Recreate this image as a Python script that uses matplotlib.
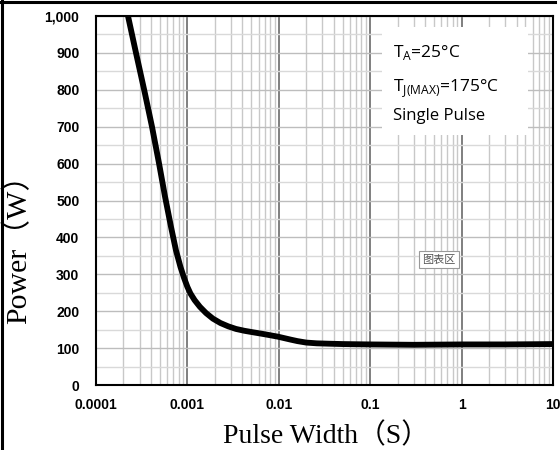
import matplotlib
matplotlib.use("Agg")
import matplotlib.pyplot as plt
from matplotlib.patches import Rectangle
from matplotlib.lines import Line2D
from matplotlib.ticker import FixedLocator, LogLocator, NullFormatter, MultipleLocator

# pulse width (s) vs peak power (W)
pulse_width = [0.000224, 0.000274, 0.00034, 0.00041, 0.00049, 0.00057, 0.00066,
               0.00075, 0.00084, 0.00092, 0.001, 0.00108, 0.0012, 0.00137, 0.0016,
               0.0019, 0.0023, 0.0028, 0.0034, 0.0042, 0.0052, 0.0065, 0.008,
               0.0098, 0.0115, 0.0135, 0.016, 0.02, 0.026, 0.035, 0.05, 0.1, 0.3,
               1, 3, 10]
power = [1000, 900, 795, 700, 600, 510, 430, 365, 320, 290, 266, 248, 230, 212,
         195, 180, 168, 159, 152, 147, 143, 139, 135, 131, 127, 123, 119, 115,
         113, 112, 111, 110, 109, 110, 110, 111]
x_ticks = [0.0001, 0.001, 0.01, 0.1, 1, 10]
x_labels = ["0.0001", "0.001", "0.01", "0.1", "1", "10"]
y_ticks = [0, 100, 200, 300, 400, 500, 600, 700, 800, 900, 1000]
y_labels = ["0", "100", "200", "300", "400", "500", "600", "700", "800", "900", "1,000"]

fig = plt.figure(figsize=(5.6, 4.5), dpi=100)
ax = fig.add_axes([0.1714, 0.1444, 0.8161, 0.82])
ax.set_xscale("log")
ax.set_xlim(0.0001, 10); ax.set_ylim(0, 1000)

ax.xaxis.set_major_locator(FixedLocator(x_ticks))
ax.xaxis.set_minor_locator(LogLocator(base=10, subs=range(2, 10)))
ax.xaxis.set_minor_formatter(NullFormatter())
ax.set_xticklabels(x_labels)
ax.set_yticks(y_ticks); ax.set_yticklabels(y_labels)
ax.yaxis.set_minor_locator(MultipleLocator(50))

ax.grid(True, which="major", axis="x", color="#7f7f7f", lw=1.4)
ax.grid(True, which="minor", axis="x", color="#c8c8c8", lw=1.0)
ax.grid(True, which="major", axis="y", color="#bdbdbd", lw=1.0)
ax.grid(True, which="minor", axis="y", color="#d9d9d9", lw=1.0)
ax.set_axisbelow(True)
ax.tick_params(which="both", length=0)
ax.tick_params(axis="y", pad=12)
ax.tick_params(axis="x", pad=9)
for lab in ax.get_xticklabels() + ax.get_yticklabels():
    lab.set_family("Liberation Sans"); lab.set_fontweight("bold"); lab.set_fontsize(10)
for s in ax.spines.values():
    s.set_linewidth(1.5); s.set_color("black")

# white info box over the grid
ax.add_patch(Rectangle((0.626, 0.678), 0.319, 0.292, transform=ax.transAxes,
                       facecolor="white", edgecolor="none", zorder=1.5))
fs = 12.5
ax.text(0.650, 0.889, r"T$_\mathregular{A}$=25°C", transform=ax.transAxes,
        fontsize=fs, family="Open Sans", va="baseline", zorder=3)
ax.text(0.650, 0.794, r"T$_\mathregular{J(MAX)}$=175°C", transform=ax.transAxes,
        fontsize=fs, family="Open Sans", va="baseline", zorder=3)
ax.text(0.650, 0.718, "Single Pulse", transform=ax.transAxes,
        fontsize=fs - 0.5, family="Open Sans", va="baseline", zorder=3)

ax.plot(pulse_width, power, color="black", lw=4.2, solid_capstyle="butt",
        solid_joinstyle="round", zorder=4)

# excel chart-area hint
ax.text(0.75, 0.34, "图表区", transform=ax.transAxes, fontsize=8, color="#555",
        family=["Noto Sans CJK SC", "DejaVu Sans"], ha="center", va="center", zorder=5,
        bbox=dict(boxstyle="square,pad=0.3", fc="white", ec="#999", lw=0.8))

lab_font = ["Liberation Serif", "Noto Sans CJK SC"]
fig.text(326 / 560, 1 - 436 / 450, "Pulse Width（S）", family=lab_font, fontsize=20,
         ha="center", va="center")
fig.text(18 / 560, 1 - 242 / 450, "Power（W）", family=lab_font, fontsize=21.5,
         ha="center", va="center", rotation=90)

# black frame pieces at top and left edges
fig.add_artist(Line2D([0, 555 / 560], [1 - 1.5 / 450] * 2, color="black", lw=2.2,
                      transform=fig.transFigure))
fig.add_artist(Line2D([1.5 / 560] * 2, [0, 1], color="black", lw=2.2,
                      transform=fig.transFigure))

fig.savefig("out.png", dpi=100)
